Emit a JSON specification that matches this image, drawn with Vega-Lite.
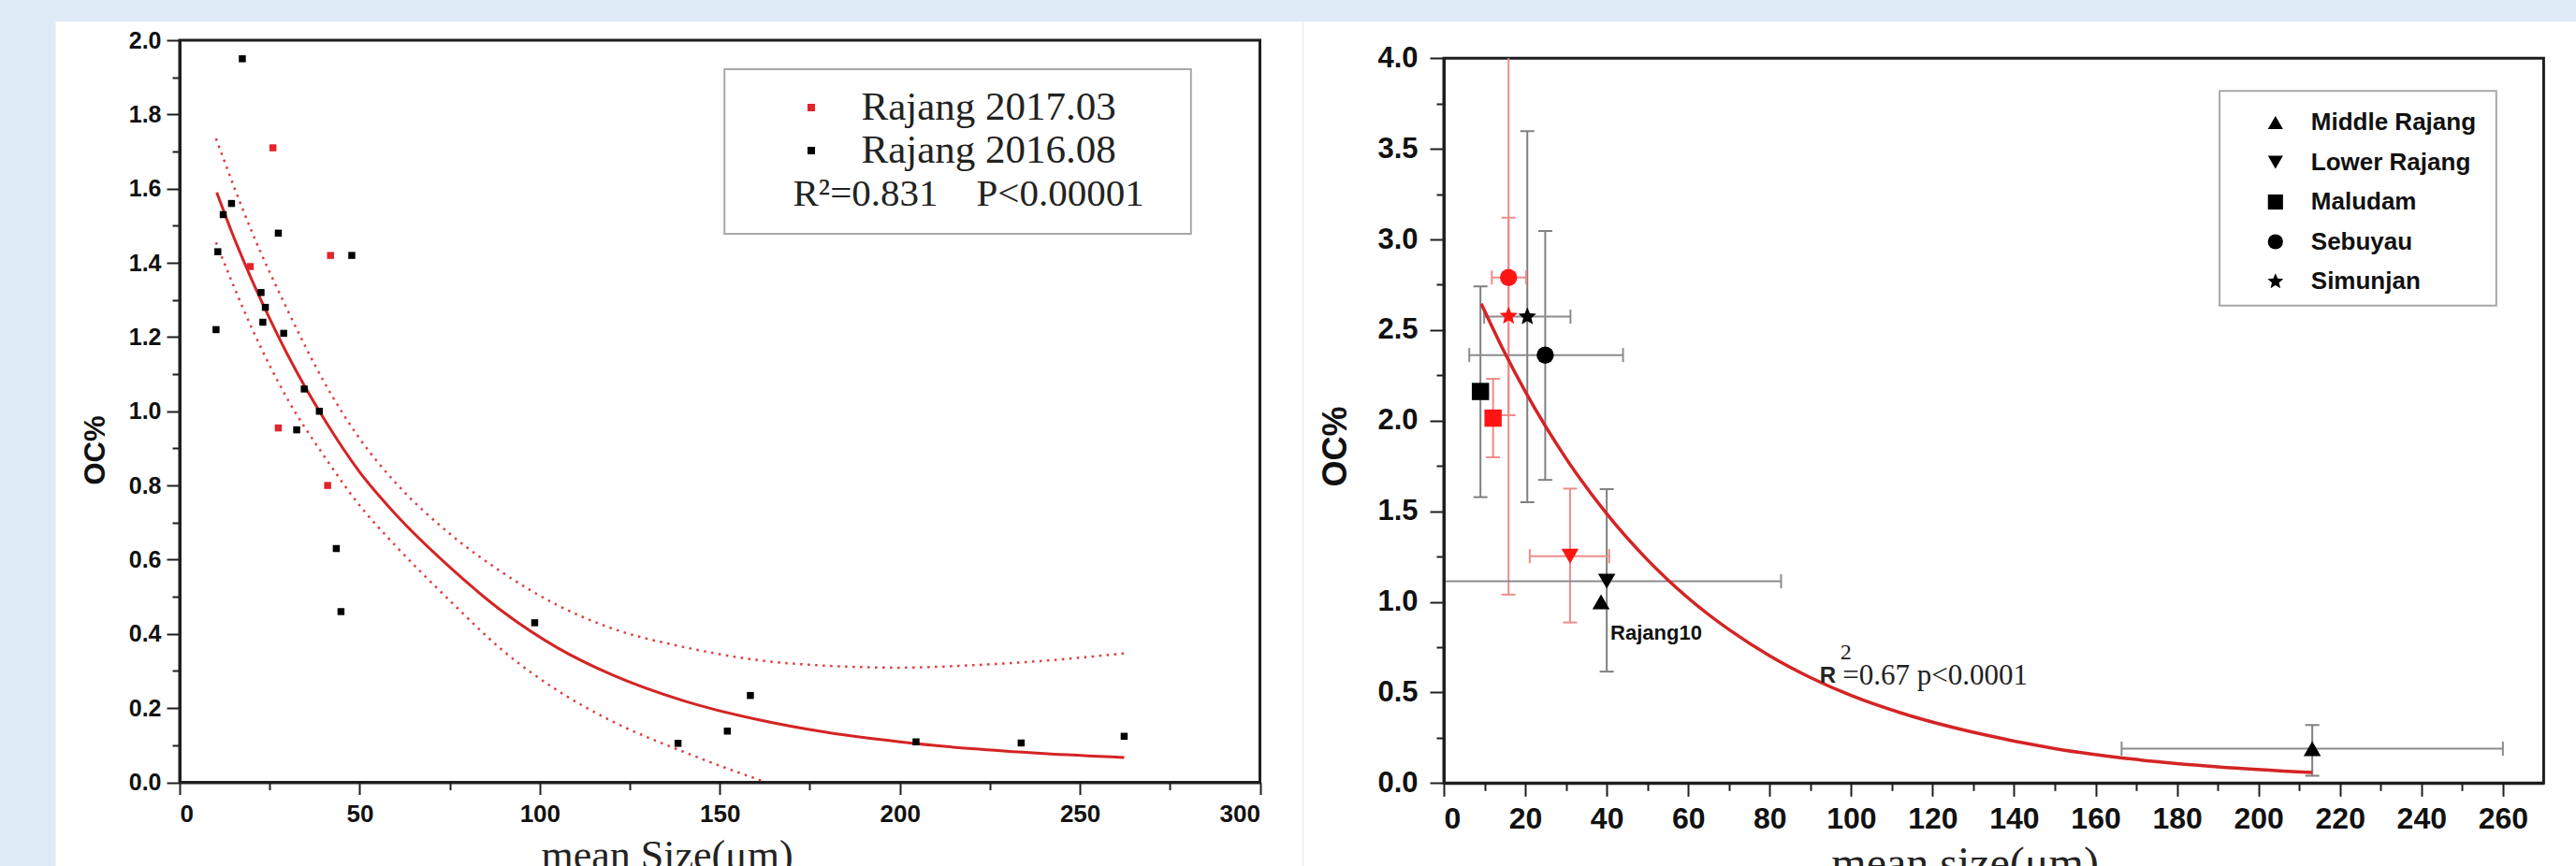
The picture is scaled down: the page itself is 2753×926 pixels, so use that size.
{
  "$schema": "https://vega.github.io/schema/vega-lite/v6.json",
  "background": "#deeaf6",
  "padding": {"left": 59, "top": 23, "right": 0, "bottom": 0},
  "spacing": 0,
  "columns": 2,
  "align": "none",
  "resolve": {"scale": {"color": "independent", "shape": "independent"}, "legend": {"color": "independent", "shape": "independent"}},
  "config": {
    "view": {"stroke": null},
    "axis": {"grid": false, "zindex": 1, "domainColor": "#1e1e1e", "tickColor": "#1e1e1e", "labelColor": "#111111", "titleColor": "#111111", "labelFont": "Liberation Sans", "labelFontWeight": "bold", "titleFont": "Liberation Sans", "titleFontWeight": "bold", "labelOverlap": false},
    "legend": {"labelLimit": 1000, "titleLimit": 1000}
  },
  "datasets": {
    "left_points": [
      {"campaign": "Rajang 2016.08", "size": 17.4, "oc": 1.95},
      {"campaign": "Rajang 2016.08", "size": 14.4, "oc": 1.56},
      {"campaign": "Rajang 2016.08", "size": 12.1, "oc": 1.53},
      {"campaign": "Rajang 2016.08", "size": 10.6, "oc": 1.43},
      {"campaign": "Rajang 2016.08", "size": 10.1, "oc": 1.22},
      {"campaign": "Rajang 2016.08", "size": 27.4, "oc": 1.48},
      {"campaign": "Rajang 2016.08", "size": 47.8, "oc": 1.42},
      {"campaign": "Rajang 2016.08", "size": 22.6, "oc": 1.32},
      {"campaign": "Rajang 2016.08", "size": 23.8, "oc": 1.28},
      {"campaign": "Rajang 2016.08", "size": 23.1, "oc": 1.24},
      {"campaign": "Rajang 2016.08", "size": 28.9, "oc": 1.21},
      {"campaign": "Rajang 2016.08", "size": 34.6, "oc": 1.06},
      {"campaign": "Rajang 2016.08", "size": 38.8, "oc": 1.0},
      {"campaign": "Rajang 2016.08", "size": 32.5, "oc": 0.95},
      {"campaign": "Rajang 2016.08", "size": 43.5, "oc": 0.63},
      {"campaign": "Rajang 2016.08", "size": 44.8, "oc": 0.46},
      {"campaign": "Rajang 2016.08", "size": 98.6, "oc": 0.43},
      {"campaign": "Rajang 2016.08", "size": 138.4, "oc": 0.105},
      {"campaign": "Rajang 2016.08", "size": 152.1, "oc": 0.138},
      {"campaign": "Rajang 2016.08", "size": 158.5, "oc": 0.234},
      {"campaign": "Rajang 2016.08", "size": 204.5, "oc": 0.109},
      {"campaign": "Rajang 2016.08", "size": 233.7, "oc": 0.106},
      {"campaign": "Rajang 2016.08", "size": 262.3, "oc": 0.124},
      {"campaign": "Rajang 2017.03", "size": 25.9, "oc": 1.71},
      {"campaign": "Rajang 2017.03", "size": 19.6, "oc": 1.39},
      {"campaign": "Rajang 2017.03", "size": 41.9, "oc": 1.42},
      {"campaign": "Rajang 2017.03", "size": 27.4, "oc": 0.955},
      {"campaign": "Rajang 2017.03", "size": 41.1, "oc": 0.8}
    ],
    "left_lines": [
      {"curve": "fit", "size": 10.3, "oc": 1.59},
      {"curve": "fit", "size": 15, "oc": 1.47},
      {"curve": "fit", "size": 20, "oc": 1.355},
      {"curve": "fit", "size": 25, "oc": 1.25},
      {"curve": "fit", "size": 30, "oc": 1.152},
      {"curve": "fit", "size": 40, "oc": 0.981},
      {"curve": "fit", "size": 50, "oc": 0.836},
      {"curve": "fit", "size": 60, "oc": 0.722},
      {"curve": "fit", "size": 75, "oc": 0.58},
      {"curve": "fit", "size": 90, "oc": 0.458},
      {"curve": "fit", "size": 105, "oc": 0.362},
      {"curve": "fit", "size": 120, "oc": 0.29},
      {"curve": "fit", "size": 140, "oc": 0.2195},
      {"curve": "fit", "size": 160, "oc": 0.17},
      {"curve": "fit", "size": 180, "oc": 0.134},
      {"curve": "fit", "size": 200, "oc": 0.109},
      {"curve": "fit", "size": 220, "oc": 0.0905},
      {"curve": "fit", "size": 240, "oc": 0.0775},
      {"curve": "fit", "size": 262.3, "oc": 0.067},
      {"curve": "upper", "size": 10.1, "oc": 1.735},
      {"curve": "upper", "size": 20, "oc": 1.485},
      {"curve": "upper", "size": 30, "oc": 1.272},
      {"curve": "upper", "size": 40, "oc": 1.081},
      {"curve": "upper", "size": 50, "oc": 0.926},
      {"curve": "upper", "size": 60, "oc": 0.807},
      {"curve": "upper", "size": 75, "oc": 0.67},
      {"curve": "upper", "size": 90, "oc": 0.563},
      {"curve": "upper", "size": 105, "oc": 0.477},
      {"curve": "upper", "size": 120, "oc": 0.415},
      {"curve": "upper", "size": 140, "oc": 0.3645},
      {"curve": "upper", "size": 160, "oc": 0.33},
      {"curve": "upper", "size": 180, "oc": 0.314},
      {"curve": "upper", "size": 200, "oc": 0.309},
      {"curve": "upper", "size": 220, "oc": 0.3155},
      {"curve": "upper", "size": 240, "oc": 0.3275},
      {"curve": "upper", "size": 262.3, "oc": 0.3475},
      {"curve": "lower", "size": 10.1, "oc": 1.455},
      {"curve": "lower", "size": 20, "oc": 1.225},
      {"curve": "lower", "size": 30, "oc": 1.032},
      {"curve": "lower", "size": 40, "oc": 0.881},
      {"curve": "lower", "size": 50, "oc": 0.746},
      {"curve": "lower", "size": 60, "oc": 0.637},
      {"curve": "lower", "size": 75, "oc": 0.49},
      {"curve": "lower", "size": 90, "oc": 0.353},
      {"curve": "lower", "size": 105, "oc": 0.247},
      {"curve": "lower", "size": 120, "oc": 0.165},
      {"curve": "lower", "size": 140, "oc": 0.082},
      {"curve": "lower", "size": 155, "oc": 0.027},
      {"curve": "lower", "size": 163, "oc": 0.0}
    ],
    "right_points": [
      {"site": "Middle Rajang", "campaign": "Rajang 2016.08", "size": 213.2, "oc": 0.19, "size_lo": 166.4, "size_hi": 260.0, "oc_lo": 0.04, "oc_hi": 0.32},
      {"site": "Middle Rajang", "campaign": "Rajang 2016.08", "size": 38.6, "oc": 1.0, "size_lo": null, "size_hi": null, "oc_lo": null, "oc_hi": null},
      {"site": "Lower Rajang", "campaign": "Rajang 2016.08", "size": 40.0, "oc": 1.114, "size_lo": -2.8, "size_hi": 82.8, "oc_lo": 0.615, "oc_hi": 1.622},
      {"site": "Lower Rajang", "campaign": "Rajang 2017.03", "size": 31.0, "oc": 1.252, "size_lo": 21.1, "size_hi": 40.6, "oc_lo": 0.886, "oc_hi": 1.625},
      {"site": "Maludam", "campaign": "Rajang 2016.08", "size": 9.0, "oc": 2.161, "size_lo": null, "size_hi": null, "oc_lo": 1.578, "oc_hi": 2.741},
      {"site": "Maludam", "campaign": "Rajang 2017.03", "size": 12.1, "oc": 2.014, "size_lo": null, "size_hi": null, "oc_lo": 1.798, "oc_hi": 2.231},
      {"site": "Sebuyau", "campaign": "Rajang 2016.08", "size": 24.9, "oc": 2.362, "size_lo": 6.25, "size_hi": 44.0, "oc_lo": 1.673, "oc_hi": 3.047},
      {"site": "Sebuyau", "campaign": "Rajang 2017.03", "size": 15.9, "oc": 2.79, "size_lo": 11.8, "size_hi": 20.2, "oc_lo": 1.04, "oc_hi": 4.54},
      {"site": "Simunjan", "campaign": "Rajang 2016.08", "size": 20.5, "oc": 2.574, "size_lo": 9.9, "size_hi": 31.1, "oc_lo": 1.55, "oc_hi": 3.598},
      {"site": "Simunjan", "campaign": "Rajang 2017.03", "size": 15.9, "oc": 2.577, "size_lo": null, "size_hi": null, "oc_lo": 2.03, "oc_hi": 3.12}
    ],
    "right_fit": [
      {"size": 9.2, "oc": 2.646},
      {"size": 15, "oc": 2.373},
      {"size": 20, "oc": 2.161},
      {"size": 30, "oc": 1.792},
      {"size": 40, "oc": 1.486},
      {"size": 50, "oc": 1.232},
      {"size": 60, "oc": 1.021},
      {"size": 70, "oc": 0.847},
      {"size": 80, "oc": 0.702},
      {"size": 90, "oc": 0.582},
      {"size": 100, "oc": 0.483},
      {"size": 115, "oc": 0.368},
      {"size": 130, "oc": 0.28},
      {"size": 150, "oc": 0.19},
      {"size": 170, "oc": 0.13},
      {"size": 190, "oc": 0.0895},
      {"size": 213.2, "oc": 0.058}
    ]
  },
  "concat": [
    {
      "width": 1154.5,
      "height": 793.5,
      "resolve": {"axis": {"x": "independent", "y": "independent"}},
      "layer": [
        {
          "data": {"values": [{"panel": "left"}]},
          "mark": {"type": "rect", "color": "#ffffff"},
          "encoding": {
            "x": {"datum": -34.43, "type": "quantitative", "scale": {"domain": [0, 300]},
              "axis": {"orient": "bottom", "zindex": 1, "values": [0, 50, 100, 150, 200, 250, 300], "format": "d", "title": "mean Size(μm)", "tickSize": 13, "tickWidth": 2, "domainWidth": 3, "labelFontSize": 26, "labelPadding": 8, "titleFont": "Liberation Serif", "titleFontWeight": "normal", "titleFontSize": 44, "titleColor": "#222222", "titleX": 520.5, "titleY": 91.5, "titleBaseline": "alphabetic"}},
            "x2": {"datum": 311.85},
            "y": {"datum": 2.0504, "type": "quantitative", "scale": {"domain": [0, 2]},
              "axis": {"orient": "left", "zindex": 1, "values": [0, 0.2, 0.4, 0.6, 0.8, 1.0, 1.2, 1.4, 1.6, 1.8, 2.0], "format": ".1f", "title": "OC%", "tickSize": 14, "tickWidth": 2, "domainWidth": 3, "labelFontSize": 25, "labelPadding": 6, "titleFontSize": 31, "titleX": -89.5, "titleY": 438, "titleBaseline": "middle"}},
            "y2": {"datum": -0.3}
          }
        },
        {
          "data": {"values": [{"panel": "left"}]},
          "mark": {"type": "rect", "filled": false, "color": "#1e1e1e", "strokeWidth": 3},
          "encoding": {
            "x": {"datum": 0, "type": "quantitative", "scale": {"domain": [0, 300]},
              "axis": {"orient": "bottom", "zindex": 1, "values": [25, 75, 125, 175, 225, 275], "labels": false, "domain": false, "title": null, "tickSize": 8, "tickWidth": 2}},
            "x2": {"datum": 300},
            "y": {"datum": 0, "type": "quantitative", "scale": {"domain": [0, 2]},
              "axis": {"orient": "left", "zindex": 1, "values": [0.1, 0.3, 0.5, 0.7, 0.9, 1.1, 1.3, 1.5, 1.7, 1.9], "labels": false, "domain": false, "title": null, "tickSize": 8, "tickWidth": 2}},
            "y2": {"datum": 2}
          }
        },
        {
          "data": {"name": "left_lines"},
          "transform": [{"filter": "datum.curve != 'fit'"}],
          "mark": {"type": "line", "color": "#e03c3c", "strokeWidth": 2.5, "strokeDash": [2.5, 5.5], "interpolate": "monotone"},
          "encoding": {
            "x": {"field": "size", "type": "quantitative", "scale": {"domain": [0, 300]}, "axis": null},
            "y": {"field": "oc", "type": "quantitative", "scale": {"domain": [0, 2]}, "axis": null},
            "detail": {"field": "curve"}
          }
        },
        {
          "data": {"name": "left_lines"},
          "transform": [{"filter": "datum.curve == 'fit'"}],
          "mark": {"type": "line", "color": "#d42424", "strokeWidth": 3, "interpolate": "monotone"},
          "encoding": {
            "x": {"field": "size", "type": "quantitative", "scale": {"domain": [0, 300]}, "axis": null},
            "y": {"field": "oc", "type": "quantitative", "scale": {"domain": [0, 2]}, "axis": null}
          }
        },
        {
          "data": {"values": [{"panel": "left"}]},
          "mark": {"type": "rect", "filled": false, "color": "#a8a8a8", "strokeWidth": 2},
          "encoding": {
            "x": {"datum": 151.29, "type": "quantitative", "scale": {"domain": [0, 300]}, "axis": null},
            "x2": {"datum": 280.85},
            "y": {"datum": 1.9219, "type": "quantitative", "scale": {"domain": [0, 2]}, "axis": null},
            "y2": {"datum": 1.4783}
          }
        },
        {
          "data": {"name": "left_points"},
          "mark": {"type": "square", "size": 56, "opacity": 1},
          "encoding": {
            "x": {"field": "size", "type": "quantitative", "scale": {"domain": [0, 300]}, "axis": null},
            "y": {"field": "oc", "type": "quantitative", "scale": {"domain": [0, 2]}, "axis": null},
            "color": {"field": "campaign", "type": "nominal", "scale": {"domain": ["Rajang 2017.03", "Rajang 2016.08"], "range": ["#e3242b", "#000000"]},
              "legend": {"orient": "none", "legendX": 655.5, "legendY": 50.5, "direction": "vertical", "padding": 0, "symbolType": "square", "symbolSize": 64, "symbolStrokeWidth": 0, "symbolOpacity": 1, "symbolOffset": -2, "labelOffset": 32, "labelFont": "Liberation Serif", "labelFontSize": 43, "labelColor": "#222222", "rowPadding": 2, "title": "R²=0.831\u00a0\u00a0\u00a0\u00a0P<0.00001", "titleOrient": "bottom", "titleFont": "Liberation Serif", "titleFontWeight": "normal", "titleFontSize": 41, "titleColor": "#222222", "titlePadding": 4}}
          }
        }
      ]
    },
    {
      "width": 1175.4,
      "height": 794.3,
      "resolve": {"axis": {"x": "independent", "y": "independent"}, "scale": {"color": "independent", "y": "independent"}},
      "layer": [
        {
          "data": {"values": [{"panel": "right"}]},
          "mark": {"type": "rect", "color": "#ffffff"},
          "encoding": {
            "x": {"datum": -34.456, "type": "quantitative", "scale": {"domain": [0, 270]},
              "axis": {"orient": "bottom", "zindex": 1, "values": [0, 20, 40, 60, 80, 100, 120, 140, 160, 180, 200, 220, 240, 260], "format": "d", "title": "mean size(μm)", "tickSize": 14, "tickWidth": 2, "domainWidth": 3, "labelFontSize": 32, "labelPadding": 9, "titleFont": "Liberation Serif", "titleFontWeight": "normal", "titleFontSize": 48, "titleColor": "#222222", "titleX": 556.6, "titleY": 100.7, "titleBaseline": "alphabetic"}},
            "x2": {"datum": 285},
            "y": {"datum": 4.2028, "type": "quantitative", "scale": {"domain": [0, 4], "range": [794.3, 19.3]}, "axis": null},
            "y2": {"datum": -0.6}
          }
        },
        {
          "data": {"values": [{"panel": "right"}]},
          "mark": {"type": "rect", "filled": false, "color": "#1e1e1e", "strokeWidth": 3},
          "encoding": {
            "x": {"datum": 0, "type": "quantitative", "scale": {"domain": [0, 270]},
              "axis": {"orient": "bottom", "zindex": 1, "values": [10, 30, 50, 70, 90, 110, 130, 150, 170, 190, 210, 230, 250], "labels": false, "domain": false, "title": null, "tickSize": 8, "tickWidth": 2}},
            "x2": {"datum": 270},
            "y": {"datum": 0, "type": "quantitative", "scale": {"domain": [0, 4], "range": [794.3, 19.3], "clamp": true},
              "axis": {"orient": "left", "zindex": 1, "values": [0, 0.5, 1.0, 1.5, 2.0, 2.5, 3.0, 3.5, 4.0], "format": ".1f", "title": "OC%", "tickSize": 15, "tickWidth": 2, "domainWidth": 3, "labelFontSize": 31, "labelPadding": 13, "titleFontSize": 36, "titleX": -115.6, "titleY": 434, "titleBaseline": "middle"}},
            "y2": {"datum": 4}
          }
        },
        {
          "data": {"name": "right_points"},
          "transform": [{"filter": "isValid(datum.oc_lo)"}],
          "mark": {"type": "rule", "strokeWidth": 2, "clip": true, "opacity": 1},
          "encoding": {
            "x": {"field": "size", "type": "quantitative", "scale": {"domain": [0, 270]}, "axis": null},
            "y": {"field": "oc_lo", "type": "quantitative", "scale": {"domain": [0, 4], "range": [794.3, 19.3], "clamp": true},
              "axis": {"orient": "left", "zindex": 1, "values": [0.25, 0.75, 1.25, 1.75, 2.25, 2.75, 3.25, 3.75], "labels": false, "domain": false, "title": null, "tickSize": 8, "tickWidth": 2}},
            "y2": {"field": "oc_hi"},
            "color": {"field": "campaign", "type": "nominal", "scale": {"domain": ["Rajang 2016.08", "Rajang 2017.03"], "range": ["#808080", "#ec8c8c"]}, "legend": null}
          }
        },
        {
          "data": {"name": "right_points"},
          "transform": [{"fold": ["oc_lo", "oc_hi"], "as": ["end", "val"]}, {"filter": "isValid(datum.val) && datum.val <= 4"}],
          "mark": {"type": "tick", "orient": "horizontal", "size": 15, "thickness": 2, "clip": true, "opacity": 1},
          "encoding": {
            "x": {"field": "size", "type": "quantitative", "scale": {"domain": [0, 270]}, "axis": null},
            "y": {"field": "val", "type": "quantitative", "scale": {"domain": [0, 4], "range": [794.3, 19.3], "clamp": true}, "axis": null},
            "color": {"field": "campaign", "type": "nominal", "scale": {"domain": ["Rajang 2016.08", "Rajang 2017.03"], "range": ["#808080", "#ec8c8c"]}, "legend": null}
          }
        },
        {
          "data": {"name": "right_points"},
          "transform": [{"filter": "isValid(datum.size_lo)"}],
          "mark": {"type": "rule", "strokeWidth": 2, "clip": true, "opacity": 1},
          "encoding": {
            "x": {"field": "size_lo", "type": "quantitative", "scale": {"domain": [0, 270]}, "axis": null},
            "x2": {"field": "size_hi"},
            "y": {"field": "oc", "type": "quantitative", "scale": {"domain": [0, 4], "range": [794.3, 19.3], "clamp": true}, "axis": null},
            "color": {"field": "campaign", "type": "nominal", "scale": {"domain": ["Rajang 2016.08", "Rajang 2017.03"], "range": ["#8c8c8c", "#ec8c8c"]}, "legend": null}
          }
        },
        {
          "data": {"name": "right_points"},
          "transform": [{"fold": ["size_lo", "size_hi"], "as": ["end", "val"]}, {"filter": "isValid(datum.val)"}],
          "mark": {"type": "tick", "orient": "vertical", "size": 15, "thickness": 2, "clip": true, "opacity": 1},
          "encoding": {
            "x": {"field": "val", "type": "quantitative", "scale": {"domain": [0, 270]}, "axis": null},
            "y": {"field": "oc", "type": "quantitative", "scale": {"domain": [0, 4], "range": [794.3, 19.3], "clamp": true}, "axis": null},
            "color": {"field": "campaign", "type": "nominal", "scale": {"domain": ["Rajang 2016.08", "Rajang 2017.03"], "range": ["#8c8c8c", "#ec8c8c"]}, "legend": null}
          }
        },
        {
          "data": {"name": "right_fit"},
          "mark": {"type": "line", "color": "#d42424", "strokeWidth": 3.5, "interpolate": "monotone"},
          "encoding": {
            "x": {"field": "size", "type": "quantitative", "scale": {"domain": [0, 270]}, "axis": null},
            "y": {"field": "oc", "type": "quantitative", "scale": {"domain": [0, 4], "range": [794.3, 19.3], "clamp": true}, "axis": null}
          }
        },
        {
          "data": {"values": [{"panel": "right"}]},
          "mark": {"type": "rect", "filled": false, "color": "#a8a8a8", "strokeWidth": 2},
          "encoding": {
            "x": {"datum": 190.45, "type": "quantitative", "scale": {"domain": [0, 270]}, "axis": null},
            "x2": {"datum": 258.38},
            "y": {"datum": 3.8194, "type": "quantitative", "scale": {"domain": [0, 4], "range": [794.3, 19.3], "clamp": true}, "axis": null},
            "y2": {"datum": 2.6354}
          }
        },
        {
          "data": {"name": "right_points"},
          "mark": {"type": "point", "filled": true, "size": 340, "opacity": 1, "strokeWidth": 0},
          "encoding": {
            "x": {"field": "size", "type": "quantitative", "scale": {"domain": [0, 270]}, "axis": null},
            "y": {"field": "oc", "type": "quantitative", "scale": {"domain": [0, 4], "range": [794.3, 19.3], "clamp": true}, "axis": null},
            "color": {"field": "campaign", "type": "nominal", "scale": {"domain": ["Rajang 2016.08", "Rajang 2017.03"], "range": ["#000000", "#ff1414"]}, "legend": null},
            "shape": {"field": "site", "type": "nominal",
              "scale": {"domain": ["Middle Rajang", "Lower Rajang", "Maludam", "Sebuyau", "Simunjan"], "range": ["triangle-up", "triangle-down", "square", "circle", "M0,-1.1L0.291,-0.4L1.046,-0.34L0.471,0.153L0.647,0.89L0,0.495L-0.647,0.89L-0.471,0.153L-1.046,-0.34L-0.291,-0.4Z"]},
              "legend": {"orient": "none", "legendX": 875.8, "legendY": 75, "direction": "vertical", "padding": 0, "title": null, "symbolSize": 260, "symbolFillColor": "#000000", "symbolStrokeColor": "#000000", "symbolStrokeWidth": 0, "symbolOpacity": 1, "labelOffset": 25, "labelFont": "Liberation Sans", "labelFontWeight": "bold", "labelFontSize": 26, "labelColor": "#111111", "rowPadding": 16.5}}
          }
        },
        {
          "data": {"values": [{"label": "Rajang10", "size": 40.9, "oc": 0.829}]},
          "mark": {"type": "text", "align": "left", "baseline": "middle", "font": "Liberation Sans", "fontWeight": "bold", "fontSize": 22, "color": "#111111"},
          "encoding": {
            "x": {"field": "size", "type": "quantitative", "scale": {"domain": [0, 270]}, "axis": null},
            "y": {"field": "oc", "type": "quantitative", "scale": {"domain": [0, 4], "range": [794.3, 19.3], "clamp": true}, "axis": null},
            "text": {"field": "label"}
          }
        },
        {
          "data": {"values": [{"label": "R", "size": 92.3, "oc": 0.589}]},
          "mark": {"type": "text", "align": "left", "baseline": "middle", "font": "Liberation Sans", "fontWeight": "bold", "fontSize": 24, "color": "#222222"},
          "encoding": {
            "x": {"field": "size", "type": "quantitative", "scale": {"domain": [0, 270]}, "axis": null},
            "y": {"field": "oc", "type": "quantitative", "scale": {"domain": [0, 4], "range": [794.3, 19.3], "clamp": true}, "axis": null},
            "text": {"field": "label"}
          }
        },
        {
          "data": {"values": [{"label": "2", "size": 98.7, "oc": 0.72}]},
          "mark": {"type": "text", "align": "center", "baseline": "middle", "font": "Liberation Serif", "fontSize": 24, "color": "#222222"},
          "encoding": {
            "x": {"field": "size", "type": "quantitative", "scale": {"domain": [0, 270]}, "axis": null},
            "y": {"field": "oc", "type": "quantitative", "scale": {"domain": [0, 4], "range": [794.3, 19.3], "clamp": true}, "axis": null},
            "text": {"field": "label"}
          }
        },
        {
          "data": {"values": [{"label": "=0.67 p<0.0001", "size": 97.9, "oc": 0.589}]},
          "mark": {"type": "text", "align": "left", "baseline": "middle", "font": "Liberation Serif", "fontSize": 31, "color": "#222222"},
          "encoding": {
            "x": {"field": "size", "type": "quantitative", "scale": {"domain": [0, 270]}, "axis": null},
            "y": {"field": "oc", "type": "quantitative", "scale": {"domain": [0, 4], "range": [794.3, 19.3], "clamp": true}, "axis": null},
            "text": {"field": "label"}
          }
        }
      ]
    }
  ]
}
